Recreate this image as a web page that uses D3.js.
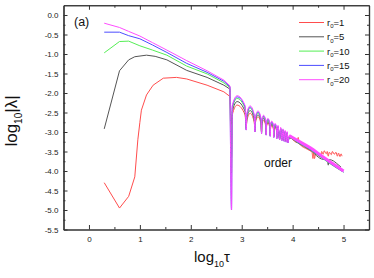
<!DOCTYPE html>
<html>
<head>
<meta charset="utf-8">
<script src="https://cdn.jsdelivr.net/npm/d3@7"></script>
<style>
  body { margin: 0; background: #fff; }
  svg { font-family: "Liberation Sans", Arial, sans-serif; }
</style>
</head>
<body>
<svg id="chart" width="374" height="278"></svg>
<script>
/* ------------------------------
   DATA
------------------------------ */

const legendLabels = ["1", "5", "10", "15", "20"];
const seriesColors = ["#ff4d4d", "#555555", "#55ee55", "#4d4dff", "#ff4dff"];

const xMajor = [0, 1, 2, 3, 4, 5];
const xMinor = [0.5, 1.5, 2.5, 3.5, 4.5];
const yMajor = [0, -0.5, -1, -1.5, -2, -2.5, -3, -3.5, -4, -4.5, -5, -5.5];
const yMinor = [-0.25, -0.75, -1.25, -1.75, -2.25, -2.75, -3.25, -3.75, -4.25, -4.75, -5.25];

// early part of each curve (before the first dip)
const rise_r1 = [[0.30, -4.30], [0.60, -4.95], [0.78, -4.65], [0.90, -4.15], [0.96, -3.20], [1.00, -2.75],
                 [1.03, -2.44], [1.13, -2.05], [1.26, -1.80], [1.46, -1.62], [1.72, -1.60], [1.92, -1.64],
                 [2.32, -1.80], [2.65, -1.97], [2.77, -2.09]];
const rise_r5 = [[0.30, -2.92], [0.60, -1.43], [0.78, -1.15], [0.90, -1.07], [1.13, -1.03], [1.30, -1.06],
                 [1.53, -1.15], [1.92, -1.42], [2.32, -1.60], [2.65, -1.80], [2.77, -1.90]];
const rise_r10 = [[0.30, -0.97], [0.60, -0.68], [0.78, -0.67], [1.00, -0.79], [1.25, -0.90], [1.53, -1.03],
                  [1.92, -1.31], [2.32, -1.51], [2.65, -1.74], [2.77, -1.86]];
const rise_r15 = [[0.30, -0.44], [0.60, -0.44], [0.78, -0.53], [1.00, -0.61], [1.25, -0.77], [1.53, -0.96],
                  [1.92, -1.24], [2.32, -1.47], [2.65, -1.70], [2.77, -1.84]];
const rise_r20 = [[0.30, -0.21], [0.60, -0.32], [0.78, -0.42], [1.00, -0.54], [1.25, -0.71], [1.53, -0.90],
                  [1.92, -1.17], [2.32, -1.43], [2.65, -1.67], [2.77, -1.82]];

// oscillating part: positions of the dips and of the hump tops
const dipX = [2.80, 3.09, 3.26, 3.39, 3.48, 3.56, 3.63, 3.69, 3.745, 3.79, 3.835, 3.875, 3.91];
const humpX = [2.91, 3.165, 3.32, 3.43, 3.515, 3.59, 3.655, 3.713, 3.765, 3.81, 3.853, 3.892];

// hump shoulders (just after / before a dip) and how far they sit below the hump top
const shoulderLX = [2.815, 3.10, 3.268, 3.396, 3.485, 3.565, 3.634];
const shoulderRX = [3.065, 3.245, 3.378, 3.472, 3.553, 3.624, 3.685];
const shoulderDropL = [0.25, 0.20, 0.16, 0.13, 0.11, 0.10, 0.08];
const shoulderDropR = [0.25, 0.22, 0.18, 0.15, 0.13, 0.11, 0.10];

const dip_r1 = [-2.80, -2.86, -2.94, -2.99, -3.04, -3.07, -3.10, -3.13, -3.16, -3.19, -3.21, -3.23, -3.25];
const dip_r5 = [-3.65, -2.92, -2.98, -3.02, -3.06, -3.09, -3.12, -3.15, -3.18, -3.20, -3.22, -3.24, -3.26];
const dip_r10 = [-4.05, -2.94, -2.99, -3.03, -3.07, -3.10, -3.13, -3.16, -3.19, -3.21, -3.23, -3.25, -3.27];
const dip_r15 = [-5.00, -2.95, -3.00, -3.04, -3.08, -3.11, -3.14, -3.17, -3.20, -3.22, -3.24, -3.26, -3.28];
const dip_r20 = [-5.00, -2.95, -3.00, -3.04, -3.08, -3.11, -3.14, -3.17, -3.20, -3.22, -3.24, -3.26, -3.28];

const hump_r1 = [-2.31, -2.52, -2.61, -2.70, -2.77, -2.83, -2.88, -2.92, -2.96, -3.00, -3.03, -3.06];
const hump_r5 = [-2.22, -2.45, -2.56, -2.65, -2.73, -2.79, -2.85, -2.89, -2.93, -2.97, -3.01, -3.04];
const hump_r10 = [-2.14, -2.39, -2.51, -2.61, -2.69, -2.76, -2.82, -2.87, -2.91, -2.95, -2.99, -3.02];
const hump_r15 = [-2.10, -2.36, -2.49, -2.59, -2.67, -2.74, -2.80, -2.85, -2.90, -2.94, -2.98, -3.01];
const hump_r20 = [-2.07, -2.33, -2.46, -2.57, -2.65, -2.72, -2.78, -2.83, -2.88, -2.92, -2.96, -2.99];

// dense tail (log10 tau > 3.9)
const tail_r1 = [[3.93, -3.12], [4.08, -3.27], [4.11, -3.14], [4.13, -3.30], [4.30, -3.45], [4.38, -3.52],
                 [4.40, -3.68], [4.41, -3.50], [4.43, -3.68], [4.45, -3.56], [4.55, -3.64], [4.57, -3.50],
                 [4.60, -3.57], [4.62, -3.48], [4.66, -3.56], [4.68, -3.50], [4.70, -3.62], [4.72, -3.52],
                 [4.76, -3.58], [4.78, -3.50], [4.82, -3.57], [4.85, -3.52], [4.88, -3.62], [4.90, -3.54],
                 [4.93, -3.63], [4.95, -3.56], [4.97, -3.62]];
const tail_r5 = [[3.93, -3.15], [4.10, -3.28], [4.34, -3.46], [4.60, -3.70], [4.68, -3.70], [4.70, -3.85],
                 [4.72, -3.71], [4.80, -3.74], [4.86, -3.80], [4.95, -3.90]];
const tail_r10 = [[3.93, -3.14], [4.10, -3.27], [4.34, -3.45], [4.60, -3.69], [4.80, -3.87], [5.00, -4.03]];
const tail_r15 = [[3.93, -3.13], [4.10, -3.26], [4.34, -3.44], [4.60, -3.68], [4.80, -3.86], [5.00, -4.03]];
const tail_r20 = [[3.93, -3.09], [4.10, -3.22], [4.34, -3.40], [4.60, -3.64], [4.80, -3.82], [5.00, -4.00]];

const rises = [rise_r1, rise_r5, rise_r10, rise_r15, rise_r20];
const dips = [dip_r1, dip_r5, dip_r10, dip_r15, dip_r20];
const humps = [hump_r1, hump_r5, hump_r10, hump_r15, hump_r20];
const tails = [tail_r1, tail_r5, tail_r10, tail_r15, tail_r20];

/* ------------------------------
   SCALES + FRAME
------------------------------ */

const svg = d3.select("#chart");

const x = d3.scaleLinear().domain([-0.5, 5.5]).range([63.5, 369]);
const y = d3.scaleLinear().domain([-5.5, 0.25]).range([229.5, 5.25]);

const axisColor = "#333";

function styleAxis(g) {
    g.selectAll("path").attr("stroke", axisColor).attr("stroke-width", 1.2);
    g.selectAll("line").attr("stroke", axisColor);
    g.selectAll("text").attr("fill", "#222").attr("font-size", 8)
        .attr("font-family", "'Liberation Sans', Arial, sans-serif");
}

// bottom
svg.append("g").attr("transform", "translate(0," + y(-5.5) + ")")
    .call(d3.axisBottom(x).tickValues(xMajor).tickSize(-4.5).tickSizeOuter(0).tickPadding(6.5)
        .tickFormat(d3.format("d")))
    .call(styleAxis);
svg.append("g").attr("transform", "translate(0," + y(-5.5) + ")")
    .call(d3.axisBottom(x).tickValues(xMinor).tickSize(-2.5).tickSizeOuter(0).tickFormat(""))
    .call(styleAxis);

// top
svg.append("g").attr("transform", "translate(0," + y(0.25) + ")")
    .call(d3.axisTop(x).tickValues(xMajor).tickSize(-4.5).tickSizeOuter(0).tickFormat(""))
    .call(styleAxis);
svg.append("g").attr("transform", "translate(0," + y(0.25) + ")")
    .call(d3.axisTop(x).tickValues(xMinor).tickSize(-2.5).tickSizeOuter(0).tickFormat(""))
    .call(styleAxis);

// left
svg.append("g").attr("transform", "translate(" + x(-0.5) + ",0)")
    .call(d3.axisLeft(y).tickValues(yMajor).tickSize(-4).tickSizeOuter(0).tickPadding(5)
        .tickFormat(d => d.toFixed(1)))
    .call(styleAxis);
svg.append("g").attr("transform", "translate(" + x(-0.5) + ",0)")
    .call(d3.axisLeft(y).tickValues(yMinor).tickSize(-2).tickSizeOuter(0).tickFormat(""))
    .call(styleAxis);

// right
svg.append("g").attr("transform", "translate(" + x(5.5) + ",0)")
    .call(d3.axisRight(y).tickValues(yMajor).tickSize(-4).tickSizeOuter(0).tickFormat(""))
    .call(styleAxis);
svg.append("g").attr("transform", "translate(" + x(5.5) + ",0)")
    .call(d3.axisRight(y).tickValues(yMinor).tickSize(-2).tickSizeOuter(0).tickFormat(""))
    .call(styleAxis);

/* ------------------------------
   CURVES
------------------------------ */

const plot = svg.append("g");

const straight = d3.line().x(d => x(d[0])).y(d => y(d[1]));
const smooth = d3.line().x(d => x(d[0])).y(d => y(d[1])).curve(d3.curveMonotoneX);

rises.forEach(function (rise, i) {

    const osc = [rise[rise.length - 1]];
    dipX.forEach(function (dx, k) {
        osc.push([dx, dips[i][k]]);
        if (k >= humpX.length) return;
        if (k < shoulderLX.length) osc.push([shoulderLX[k], humps[i][k] - shoulderDropL[k]]);
        osc.push([humpX[k], humps[i][k]]);
        if (k < shoulderRX.length) osc.push([shoulderRX[k], humps[i][k] - shoulderDropR[k]]);
    });
    tails[i].forEach(p => osc.push(p));

    plot.append("path").datum(rise)
        .attr("d", straight)
        .attr("fill", "none")
        .attr("stroke", seriesColors[i])
        .attr("stroke-width", 1);

    plot.append("path").datum(osc)
        .attr("d", smooth)
        .attr("fill", "none")
        .attr("stroke", seriesColors[i])
        .attr("stroke-width", 1);
});

// thick band where the oscillations are too dense to resolve
plot.append("path").datum(tail_r20)
    .attr("d", smooth)
    .attr("fill", "none")
    .attr("stroke", seriesColors[4])
    .attr("stroke-width", 3);

/* ------------------------------
   TEXT + LEGEND
------------------------------ */

svg.append("text").attr("x", 74).attr("y", 26)
    .attr("font-size", 12.5).attr("fill", "#111").text("(a)");

svg.append("text").attr("x", 264).attr("y", 167.3)
    .attr("font-size", 12).attr("fill", "#111").text("order");

const xLabel = svg.append("text").attr("x", 212).attr("y", 262)
    .attr("text-anchor", "middle").attr("font-size", 15).attr("fill", "#111");
xLabel.append("tspan").text("log");
xLabel.append("tspan").attr("font-size", 9).attr("dy", 5).text("10");
xLabel.append("tspan").attr("dy", -5).text("τ");

const yLabel = svg.append("text")
    .attr("transform", "translate(17,121) rotate(-90)")
    .attr("text-anchor", "middle").attr("font-size", 17).attr("fill", "#111");
yLabel.append("tspan").text("log");
yLabel.append("tspan").attr("font-size", 10).attr("dy", 5).text("10");
yLabel.append("tspan").attr("dy", -5).text("|λ|");

const legend = svg.append("g");

legendLabels.forEach(function (lab, i) {
    const ly = 22.5 + i * 14.3;

    legend.append("line")
        .attr("x1", 299).attr("x2", 324)
        .attr("y1", ly).attr("y2", ly)
        .attr("stroke", seriesColors[i])
        .attr("stroke-width", 1);

    const t = legend.append("text").attr("x", 327).attr("y", ly + 3.4)
        .attr("font-size", 9.5).attr("fill", "#111");
    t.append("tspan").text("r");
    t.append("tspan").attr("font-size", 6).attr("dy", 2.5).text("0");
    t.append("tspan").attr("dy", -2.5).text("=" + lab);
});
</script>
</body>
</html>
